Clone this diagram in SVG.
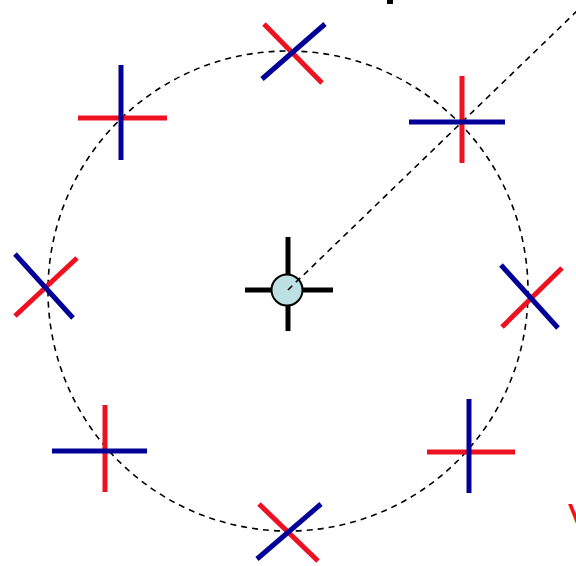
<svg xmlns="http://www.w3.org/2000/svg" width="576" height="566" viewBox="0 0 576 566">
<style>
.r{stroke:#ee1122;stroke-width:5;fill:none}
.b{stroke:#000099;stroke-width:5;fill:none}
.k{stroke:#000;stroke-width:5;fill:none}
.d{stroke:#000;stroke-width:1.6;stroke-dasharray:6,5;fill:none}
</style>
<rect width="576" height="566" fill="#fff"/>
<g id="connectors">
<circle class="d" cx="288" cy="291" r="240"/>
<line class="d" x1="288" y1="290" x2="578" y2="10"/>
</g>
<g id="top"><line class="r" x1="264" y1="24" x2="322" y2="83"/><line class="b" x1="325" y1="24" x2="262" y2="79"/></g>
<g id="topright"><line class="r" x1="462" y1="76" x2="462" y2="163"/><line class="b" x1="409" y1="122" x2="505" y2="122"/></g>
<g id="topleft"><line class="r" x1="78" y1="118" x2="167" y2="118"/><line class="b" x1="121" y1="65" x2="121" y2="160"/></g>
<g id="left"><line class="r" x1="15" y1="316" x2="77" y2="258"/><line class="b" x1="15" y1="254" x2="73" y2="318"/></g>
<g id="right"><line class="r" x1="502" y1="327" x2="562" y2="268"/><line class="b" x1="501" y1="265" x2="558" y2="328"/></g>
<g id="bottomleft"><line class="r" x1="105" y1="405" x2="105" y2="492"/><line class="b" x1="52" y1="451" x2="147" y2="451"/></g>
<g id="bottomright"><line class="r" x1="427" y1="452" x2="515" y2="452"/><line class="b" x1="469" y1="399" x2="469" y2="493"/></g>
<g id="bottom"><line class="r" x1="259" y1="504" x2="318" y2="561"/><line class="b" x1="321" y1="504" x2="257" y2="559"/></g>
<g id="center">
<line class="k" x1="288" y1="237" x2="288" y2="331"/>
<line class="k" x1="245" y1="290" x2="333" y2="290"/>
<circle cx="287" cy="290" r="15.5" fill="#bde0e2" stroke="#000" stroke-width="2"/>
<line class="d" x1="288" y1="290" x2="302" y2="276"/>
</g>
<rect x="387" y="0" width="6" height="4" fill="#000"/>
<text x="568" y="532" font-family="Liberation Sans, Arial, sans-serif" font-size="40" fill="#ee1122">V</text>
</svg>
